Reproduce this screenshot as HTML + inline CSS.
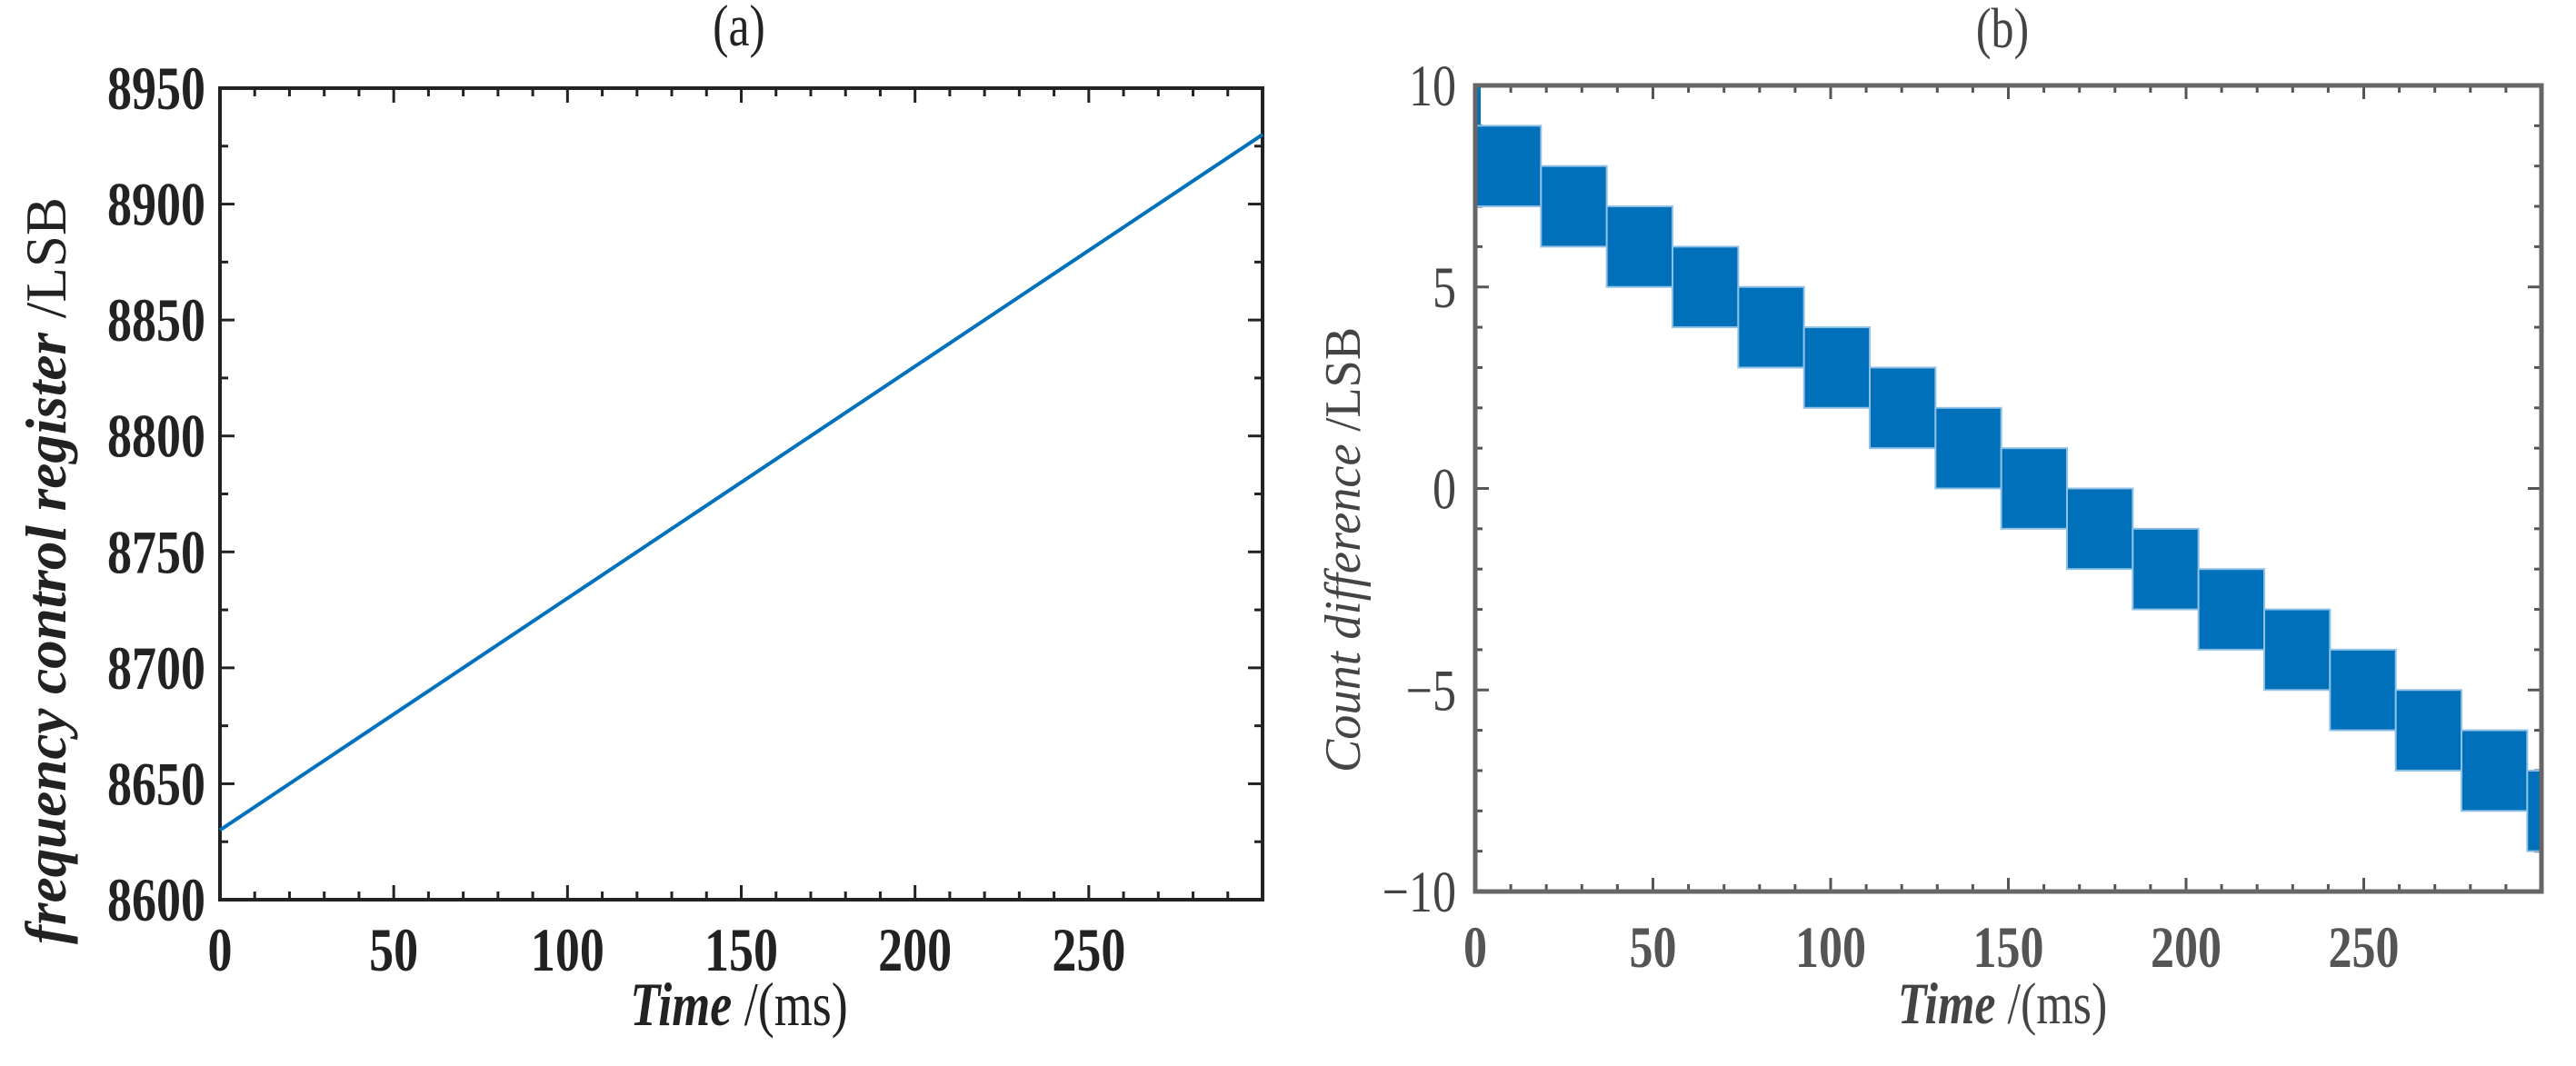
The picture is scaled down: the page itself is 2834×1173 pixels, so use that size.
<!DOCTYPE html>
<html><head><meta charset="utf-8"><style>
html,body{margin:0;padding:0;background:#fff;}
svg{display:block;}
</style></head><body>
<svg id="fig" width="2834" height="1173" viewBox="0 0 2834 1173" xmlns="http://www.w3.org/2000/svg">
<g id="pa"></g>
<g id="pb"></g>
</svg>
<script>
// Panel (a) data
const aXTicks = [0, 50, 100, 150, 200, 250];
const aYTicks = [8600, 8650, 8700, 8750, 8800, 8850, 8900, 8950];
const aLineX = [0, 300];
const aLineY = [8630, 8930];
// Panel (b) data
const bXTicks = [0, 50, 100, 150, 200, 250];
const bYTicks = [-10, -5, 0, 5, 10];
const bStepStart = [0, 18.5, 37, 55.5, 74, 92.5, 111, 129.5, 148, 166.5, 185, 203.5, 222, 240.5, 259, 277.5, 296];
const bStepEnd = [18.5, 37, 55.5, 74, 92.5, 111, 129.5, 148, 166.5, 185, 203.5, 222, 240.5, 259, 277.5, 296, 300];
const bStepCenter = [8, 7, 6, 5, 4, 3, 2, 1, 0, -1, -2, -3, -4, -5, -6, -7, -8];
const bHalfWidth = 1;

const NS = "http://www.w3.org/2000/svg";
const SY = 1.25;
function mk(parent, tag, attrs, text) {
  const e = document.createElementNS(NS, tag);
  for (const k in attrs) e.setAttribute(k, attrs[k]);
  if (text !== undefined) e.textContent = text;
  parent.appendChild(e);
  return e;
}
function stxt(parent, x, y, attrs, text) {
  const a = Object.assign({x: 0, y: 0, transform: 'translate(' + x + ',' + y + ') scale(1,' + SY + ')'}, attrs);
  return mk(parent, 'text', a, text);
}

// ---------- Panel A ----------
(function () {
  const g = document.getElementById('pa');
  const L = 242, R = 1389, T = 97, B = 990;
  const sx = v => L + (v - 0) / 300 * (R - L);
  const sy = v => B - (v - 8600) / 350 * (B - T);
  const col = "#222";
  for (let v = 10; v < 300; v += 10) {
    if (v % 50 === 0) continue;
    const t = mk(g, 'line', {x1: sx(v), x2: sx(v), y1: B, y2: B - 9, stroke: col, 'stroke-width': 3});
    
    
    mk(g, 'line', {x1: sx(v), x2: sx(v), y1: T, y2: T + 9, stroke: col, 'stroke-width': 3});
  }
  for (let v = 8625; v < 8950; v += 50) {
    mk(g, 'line', {x1: L, x2: L + 9, y1: sy(v), y2: sy(v), stroke: col, 'stroke-width': 3});
    mk(g, 'line', {x1: R, x2: R - 9, y1: sy(v), y2: sy(v), stroke: col, 'stroke-width': 3});
  }
  aXTicks.forEach(v => {
    mk(g, 'line', {x1: sx(v), x2: sx(v), y1: B, y2: B - 16, stroke: col, 'stroke-width': 3});
    mk(g, 'line', {x1: sx(v), x2: sx(v), y1: T, y2: T + 16, stroke: col, 'stroke-width': 3});
    const t = stxt(g, sx(v), 1068, {'text-anchor': 'middle', 'font-family': 'Liberation Serif, serif', 'font-weight': 'bold', 'font-size': 54, fill: col}, String(v));
    
    
  });
  aYTicks.forEach(v => {
    mk(g, 'line', {x1: L, x2: L + 16, y1: sy(v), y2: sy(v), stroke: col, 'stroke-width': 3});
    mk(g, 'line', {x1: R, x2: R - 16, y1: sy(v), y2: sy(v), stroke: col, 'stroke-width': 3});
    const t = stxt(g, 226, sy(v) + 23, {'text-anchor': 'end', 'font-family': 'Liberation Serif, serif', 'font-weight': 'bold', 'font-size': 54, fill: col}, String(v));
    
    
  });
  const box = mk(g, 'rect', {x: L, y: T, width: R - L, height: B - T, fill: 'none', stroke: col, 'stroke-width': 4});
  
  
  const ln = mk(g, 'line', {x1: sx(aLineX[0]), y1: sy(aLineY[0]), x2: sx(aLineX[1]), y2: sy(aLineY[1]), stroke: '#0072BD', 'stroke-width': 4});
  
  
  const ti = stxt(g, 813, 50, {'text-anchor': 'middle', 'font-family': 'Liberation Serif, serif', 'font-size': 52, fill: col}, '(a)');
  
  
  const xl = stxt(g, 813, 1128, {'text-anchor': 'middle', 'font-family': 'Liberation Serif, serif', 'font-size': 54, fill: col});
  
  
  mk(xl, 'tspan', {'font-style': 'italic', 'font-weight': 'bold'}, 'Time');
  mk(xl, 'tspan', {}, ' /(ms)');
  const yl = mk(g, 'text', {x: 0, y: 0, transform: 'translate(72,628) rotate(-90)', 'text-anchor': 'middle', 'font-family': 'Liberation Serif, serif', 'font-size': 64, fill: col, textLength: 822, lengthAdjust: 'spacingAndGlyphs'});
  
  
  mk(yl, 'tspan', {'font-style': 'italic', 'font-weight': 'bold'}, 'frequency control register');
  mk(yl, 'tspan', {}, ' /LSB');
})();

// ---------- Panel B ----------
(function () {
  const g = document.getElementById('pb');
  const L = 1623, R = 2796, T = 94, B = 981;
  const sx = v => L + v / 300 * (R - L);
  const sy = v => B - (v + 10) / 20 * (B - T);
  const col = "#555";
  for (let v = 10; v < 300; v += 10) {
    if (v % 50 === 0) continue;
    mk(g, 'line', {x1: sx(v), x2: sx(v), y1: B, y2: B - 8, stroke: col, 'stroke-width': 3});
    mk(g, 'line', {x1: sx(v), x2: sx(v), y1: T, y2: T + 8, stroke: col, 'stroke-width': 3});
  }
  for (let v = -9; v < 10; v++) {
    if (v % 5 === 0) continue;
    mk(g, 'line', {x1: L, x2: L + 8, y1: sy(v), y2: sy(v), stroke: col, 'stroke-width': 3});
    mk(g, 'line', {x1: R, x2: R - 8, y1: sy(v), y2: sy(v), stroke: col, 'stroke-width': 3});
  }
  bXTicks.forEach(v => {
    mk(g, 'line', {x1: sx(v), x2: sx(v), y1: B, y2: B - 15, stroke: col, 'stroke-width': 3});
    mk(g, 'line', {x1: sx(v), x2: sx(v), y1: T, y2: T + 15, stroke: col, 'stroke-width': 3});
    const t = stxt(g, sx(v), 1064, {'text-anchor': 'middle', 'font-family': 'Liberation Serif, serif', 'font-weight': 'bold', 'font-size': 52, fill: '#555'}, String(v));
    
    
  });
  bYTicks.forEach(v => {
    mk(g, 'line', {x1: L, x2: L + 15, y1: sy(v), y2: sy(v), stroke: col, 'stroke-width': 3});
    mk(g, 'line', {x1: R, x2: R - 15, y1: sy(v), y2: sy(v), stroke: col, 'stroke-width': 3});
    const t = stxt(g, 1602, sy(v) + 22, {'text-anchor': 'end', 'font-family': 'Liberation Serif, serif', 'font-size': 52, fill: '#444'}, v < 0 ? '\u2212' + Math.abs(v) : String(v));
    
    
  });
  const sp = mk(g, 'rect', {x: sx(0), y: sy(10), width: 6, height: sy(7) - sy(10), fill: '#0072BD'});
  
  
  bStepCenter.forEach((c, i) => {
    const r = mk(g, 'rect', {x: sx(bStepStart[i]), y: sy(c + bHalfWidth), width: sx(bStepEnd[i]) - sx(bStepStart[i]), height: sy(c - bHalfWidth) - sy(c + bHalfWidth), fill: '#0070BA', stroke: '#8fc0e6', 'stroke-width': 2});
    
    
  });
  const box = mk(g, 'rect', {x: L, y: T, width: R - L, height: B - T, fill: 'none', stroke: '#666', 'stroke-width': 5});
  
  
  const ti = stxt(g, 2203, 52, {'text-anchor': 'middle', 'font-family': 'Liberation Serif, serif', 'font-size': 50, fill: '#444'}, '(b)');
  
  
  const xl = stxt(g, 2203, 1126, {'text-anchor': 'middle', 'font-family': 'Liberation Serif, serif', 'font-size': 52, fill: '#444'});
  
  
  mk(xl, 'tspan', {'font-style': 'italic', 'font-weight': 'bold'}, 'Time');
  mk(xl, 'tspan', {}, ' /(ms)');
  const yl = mk(g, 'text', {x: 0, y: 0, transform: 'translate(1496,605) rotate(-90)', 'text-anchor': 'middle', 'font-family': 'Liberation Serif, serif', 'font-size': 56, fill: '#444', textLength: 490, lengthAdjust: 'spacingAndGlyphs'});
  
  
  mk(yl, 'tspan', {'font-style': 'italic'}, 'Count difference');
  mk(yl, 'tspan', {}, '  /LSB');
})();
</script>
</body></html>
